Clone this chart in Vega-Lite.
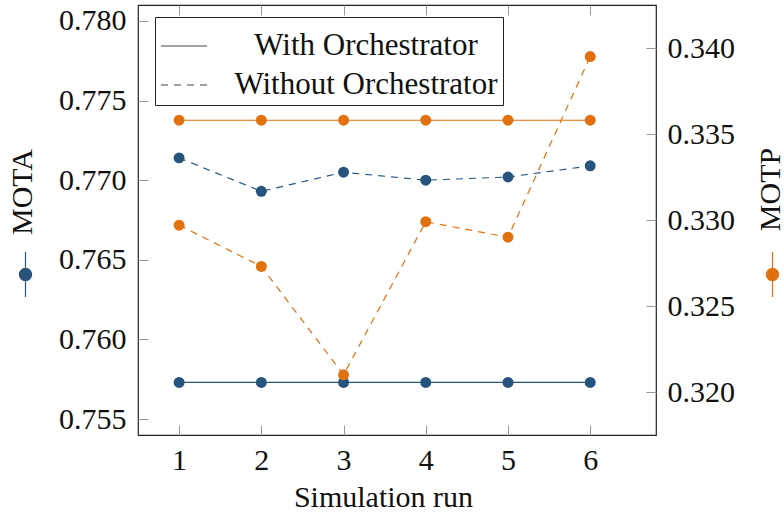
{
  "$schema": "https://vega.github.io/schema/vega-lite/v6.json",
  "width": 518,
  "height": 430,
  "autosize": {"type": "none"},
  "padding": {"left": 138, "top": 5, "right": 128, "bottom": 83},
  "data": {
    "values": [
      {"run": 1, "metric": "MOTA", "orch": "With Orchestrator", "value": 0.7573},
      {"run": 2, "metric": "MOTA", "orch": "With Orchestrator", "value": 0.7573},
      {"run": 3, "metric": "MOTA", "orch": "With Orchestrator", "value": 0.7573},
      {"run": 4, "metric": "MOTA", "orch": "With Orchestrator", "value": 0.7573},
      {"run": 5, "metric": "MOTA", "orch": "With Orchestrator", "value": 0.7573},
      {"run": 6, "metric": "MOTA", "orch": "With Orchestrator", "value": 0.7573},
      {"run": 1, "metric": "MOTA", "orch": "Without Orchestrator", "value": 0.7714},
      {"run": 2, "metric": "MOTA", "orch": "Without Orchestrator", "value": 0.7693},
      {"run": 3, "metric": "MOTA", "orch": "Without Orchestrator", "value": 0.7705},
      {"run": 4, "metric": "MOTA", "orch": "Without Orchestrator", "value": 0.7700},
      {"run": 5, "metric": "MOTA", "orch": "Without Orchestrator", "value": 0.7702},
      {"run": 6, "metric": "MOTA", "orch": "Without Orchestrator", "value": 0.7709},
      {"run": 1, "metric": "MOTP", "orch": "With Orchestrator", "value": 0.3358},
      {"run": 2, "metric": "MOTP", "orch": "With Orchestrator", "value": 0.3358},
      {"run": 3, "metric": "MOTP", "orch": "With Orchestrator", "value": 0.3358},
      {"run": 4, "metric": "MOTP", "orch": "With Orchestrator", "value": 0.3358},
      {"run": 5, "metric": "MOTP", "orch": "With Orchestrator", "value": 0.3358},
      {"run": 6, "metric": "MOTP", "orch": "With Orchestrator", "value": 0.3358},
      {"run": 1, "metric": "MOTP", "orch": "Without Orchestrator", "value": 0.3297},
      {"run": 2, "metric": "MOTP", "orch": "Without Orchestrator", "value": 0.3273},
      {"run": 3, "metric": "MOTP", "orch": "Without Orchestrator", "value": 0.3210},
      {"run": 4, "metric": "MOTP", "orch": "Without Orchestrator", "value": 0.3299},
      {"run": 5, "metric": "MOTP", "orch": "Without Orchestrator", "value": 0.3290},
      {"run": 6, "metric": "MOTP", "orch": "Without Orchestrator", "value": 0.3395}
    ]
  },
  "config": {
    "font": "Liberation Serif",
    "view": {"stroke": "#222", "strokeWidth": 1.2},
    "axis": {
      "domain": false,
      "grid": false,
      "tickSize": -10,
      "tickColor": "#999",
      "tickWidth": 1,
      "labelFont": "Liberation Serif",
      "labelFontSize": 30,
      "labelColor": "#111",
      "titleFont": "Liberation Serif",
      "titleFontSize": 30,
      "titleFontWeight": "normal",
      "titleColor": "#111"
    },
    "legend": {"labelFont": "Liberation Serif", "labelFontSize": 31, "labelColor": "#111", "labelLimit": 600}
  },
  "layer": [
    {
      "transform": [{"filter": "datum.metric === 'MOTA'"}],
      "mark": {"type": "line", "strokeWidth": 1.2, "point": {"filled": true, "size": 120, "opacity": 1}},
      "encoding": {
        "x": {
          "field": "run", "type": "quantitative",
          "scale": {"domain": [0.5, 6.8], "nice": false, "zero": false},
          "axis": {"orient": "bottom", "values": [1, 2, 3, 4, 5, 6], "format": "d", "labelPadding": 20,
                   "title": "Simulation run", "titleX": 245, "titleY": 71, "titleBaseline": "alphabetic"}
        },
        "y": {
          "field": "value", "type": "quantitative",
          "scale": {"domain": [0.754, 0.781], "nice": false, "zero": false},
          "axis": {"orient": "left", "values": [0.755, 0.76, 0.765, 0.77, 0.775, 0.78], "format": ".3f",
                   "labelPadding": 22, "title": "MOTA", "titleAngle": 270, "titleX": -106.5, "titleY": 186.5,
                   "titleBaseline": "alphabetic", "titleAlign": "center"}
        },
        "color": {
          "field": "metric", "type": "nominal",
          "scale": {"domain": ["MOTA"], "range": ["#26547c"]},
          "legend": {
            "orient": "none", "legendX": -136, "legendY": 246, "title": null, "labelExpr": "''",
            "padding": 0, "symbolType": "M0,-1V1M0.27,0A0.27,0.27,0,1,1,-0.27,0A0.27,0.27,0,1,1,0.27,0Z",
            "symbolSize": 2025, "symbolFillColor": "#26547c", "symbolStrokeColor": "#26547c",
            "symbolStrokeWidth": 1.2, "symbolOpacity": 1, "labelOffset": 0
          }
        },
        "strokeDash": {
          "field": "orch", "type": "nominal",
          "scale": {"domain": ["With Orchestrator", "Without Orchestrator"], "range": [[1, 0], [7, 6]]},
          "legend": {
            "orient": "none", "legendX": 17, "legendY": 12, "title": null,
            "padding": 5, "strokeColor": "#222", "fillColor": "white",
            "symbolType": "stroke", "symbolSize": 2116, "symbolStrokeColor": "#444", "symbolStrokeWidth": 1.2,
            "labelAlign": "center", "labelOffset": 158, "rowPadding": 0,
            "encode": {"symbols": {"update": {"stroke": {"value": "#444"}, "strokeWidth": {"value": 1.2}, "opacity": {"value": 1}}}}
          }
        }
      }
    },
    {
      "transform": [{"filter": "datum.metric === 'MOTP'"}],
      "mark": {"type": "line", "strokeWidth": 1.2, "point": {"filled": true, "size": 120, "opacity": 1}},
      "encoding": {
        "x": {
          "field": "run", "type": "quantitative",
          "scale": {"domain": [0.5, 6.8], "nice": false, "zero": false},
          "axis": {"orient": "top", "values": [1, 2, 3, 4, 5, 6], "labels": false, "title": null}
        },
        "y": {
          "field": "value", "type": "quantitative",
          "scale": {"domain": [0.3175, 0.3425], "nice": false, "zero": false},
          "axis": {"orient": "right", "values": [0.32, 0.325, 0.33, 0.335, 0.34], "format": ".3f",
                   "labelPadding": 21, "title": "MOTP", "titleAngle": 270, "titleX": 123, "titleY": 184,
                   "titleBaseline": "alphabetic", "titleAlign": "center"}
        },
        "color": {
          "field": "metric", "type": "nominal",
          "scale": {"domain": ["MOTP"], "range": ["#e1700e"]},
          "legend": {
            "orient": "none", "legendX": 611, "legendY": 246, "title": null, "labelExpr": "''",
            "padding": 0, "symbolType": "M0,-1V1M0.27,0A0.27,0.27,0,1,1,-0.27,0A0.27,0.27,0,1,1,0.27,0Z",
            "symbolSize": 2025, "symbolFillColor": "#e1700e", "symbolStrokeColor": "#e1700e",
            "symbolStrokeWidth": 1.2, "symbolOpacity": 1, "labelOffset": 0
          }
        },
        "strokeDash": {"field": "orch", "type": "nominal"}
      }
    }
  ],
  "resolve": {"scale": {"y": "independent", "color": "independent"}, "axis": {"x": "independent"}}
}
